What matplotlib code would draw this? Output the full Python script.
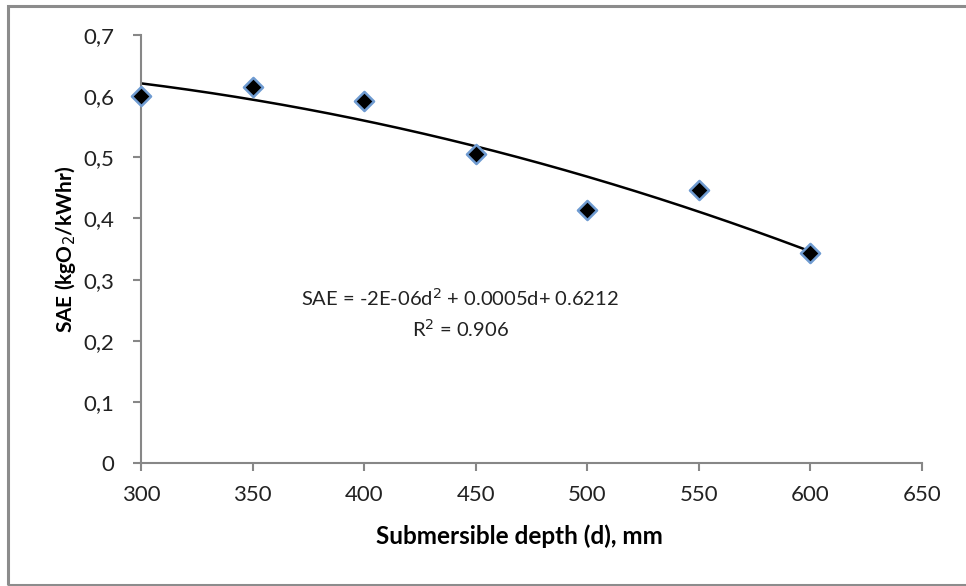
import numpy as np
import matplotlib.pyplot as plt
from matplotlib.patches import Rectangle

# Data
depth = [300, 350, 400, 450, 500, 550, 600]
sae = [0.600, 0.615, 0.592, 0.506, 0.414, 0.447, 0.344]

x_ticks = [300, 350, 400, 450, 500, 550, 600, 650]
y_ticks = [0, 0.1, 0.2, 0.3, 0.4, 0.5, 0.6, 0.7]
y_tick_labels = ['0', '0,1', '0,2', '0,3', '0,4', '0,5', '0,6', '0,7']

plt.rcParams['font.family'] = ['Lato', 'DejaVu Sans']

fig = plt.figure(figsize=(9.66, 5.86), dpi=100)
ax = fig.add_axes([0.146, 0.2095, 0.8085, 0.731])

# polynomial (order 2) trendline
coef = np.polyfit(depth, sae, 2)
xs = np.linspace(300, 600, 200)
ax.plot(xs, np.polyval(coef, xs), color='black', lw=1.8, zorder=2)

ax.scatter(depth, sae, marker='D', s=95, color='black',
           edgecolors='#6f9bd1', linewidths=1.8, zorder=3, clip_on=False)

ax.set_xlim(300, 650)
ax.set_ylim(0, 0.7)
ax.set_xticks(x_ticks)
ax.set_yticks(y_ticks)
ax.set_yticklabels(y_tick_labels)

for side in ['top', 'right']:
    ax.spines[side].set_visible(False)
for side in ['left', 'bottom']:
    ax.spines[side].set_color('#878787')
    ax.spines[side].set_linewidth(1.5)
ax.tick_params(colors='#878787', width=1.5, length=6, labelsize=16,
               labelcolor='#222222')
ax.tick_params(axis='x', pad=10)
ax.tick_params(axis='y', pad=13)

ax.set_xlabel('Submersible depth (d), mm', fontsize=17.5, fontweight='bold')
ax.xaxis.set_label_coords(0.485, -0.143)
ax.set_ylabel('SAE (kgO$_2$/kWhr)', fontsize=15, fontweight='bold',
              labelpad=4)

ax.text(443, 0.245, 'SAE = -2E-06d$^2$ + 0.0005d+ 0.6212\nR$^2$ = 0.906',
        ha='center', va='center', fontsize=14.5, color='#222222',
        linespacing=1.45)

# outer chart border
fig.patches.append(Rectangle((8 / 966, 1 / 586), 1.0, 1 - 7 / 586,
                             transform=fig.transFigure, fill=False,
                             edgecolor='#8c8c8c', lw=2.2))

fig.savefig('out.png', dpi=100)
